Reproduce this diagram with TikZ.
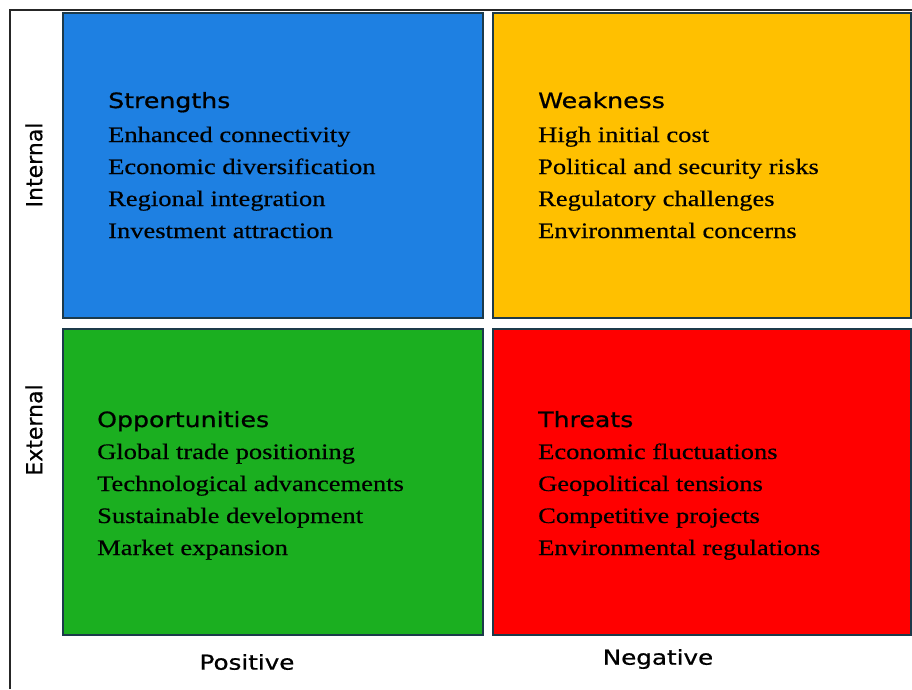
\documentclass[tikz,border=0pt]{standalone}
\usepackage{fontspec}
\setmainfont[FakeStretch=1.2, FakeBold=0.4]{Liberation Serif}
\newfontfamily\headfont[FakeStretch=1.2, FakeBold=0.8]{DejaVu Sans}
\newfontfamily\sidefont[FakeBold=0.5]{DejaVu Sans}
\definecolor{sblue}{HTML}{1E80E2}
\definecolor{wyellow}{HTML}{FFC000}
\definecolor{ogreen}{HTML}{1BAF20}
\definecolor{tred}{HTML}{FF0000}
\definecolor{boxline}{HTML}{1C3A4A}
\tikzset{
  quad/.style={draw=boxline, line width=1.6pt, inner sep=0pt, anchor=north west},
  head/.style={font=\headfont\fontsize{21}{25}\selectfont, anchor=base west, inner sep=0pt},
  item/.style={font=\fontsize{22.1}{26}\selectfont, anchor=base west, inner sep=0pt},
  axis/.style={font=\sidefont\fontsize{22}{26}\selectfont, inner sep=0pt},
  baxis/.style={font=\headfont\fontsize{20.5}{25}\selectfont, inner sep=0pt}
}
\begin{document}
\begin{tikzpicture}[x=1pt,y=-1pt]
\useasboundingbox (0,0) rectangle (912,689);
\draw [line width=2pt, black!85] (10,689) -- (10,10) -- (912,10);

% the four quadrants
\node[quad, fill=sblue,   minimum width=420pt, minimum height=305pt] (s) at (62,12)   {};
\node[quad, fill=wyellow, minimum width=418pt, minimum height=305pt] (w) at (492,12)  {};
\node[quad, fill=ogreen,  minimum width=420pt, minimum height=306pt] (o) at (62,328)  {};
\node[quad, fill=tred,    minimum width=418pt, minimum height=306pt] (t) at (492,328) {};

% headings
\node[head] (sh) at (108,108) {Strengths};
\node[head] (wh) at (538,108) {Weakness};
\node[head] (oh) at (97,427)  {Opportunities};
\node[head] (th) at (538,427) {Threats};

% lists
\foreach \txt [count=\i] in {Enhanced connectivity, Economic diversification,
    Regional integration, Investment attraction}
  \node[item] (s\i) at (108,110+32*\i) {\txt};
\foreach \txt [count=\i] in {High initial cost, Political and security risks,
    Regulatory challenges, Environmental concerns}
  \node[item] (w\i) at (538,110+32*\i) {\txt};
\foreach \txt [count=\i] in {Global trade positioning, Technological advancements,
    Sustainable development, Market expansion}
  \node[item] (o\i) at (97,427+32*\i) {\txt};
\foreach \txt [count=\i] in {Economic fluctuations, Geopolitical tensions,
    Competitive projects, Environmental regulations}
  \node[item] (t\i) at (538,427+32*\i) {\txt};

% axis labels
\node[axis, rotate=90] (int) at (34,165) {Internal};
\node[axis, rotate=90] (ext) at (34,430) {External};
\node[baxis] (pos) at (247,662) {Positive};
\node[baxis] (neg) at (658,659) {Negative};
\end{tikzpicture}
\end{document}
